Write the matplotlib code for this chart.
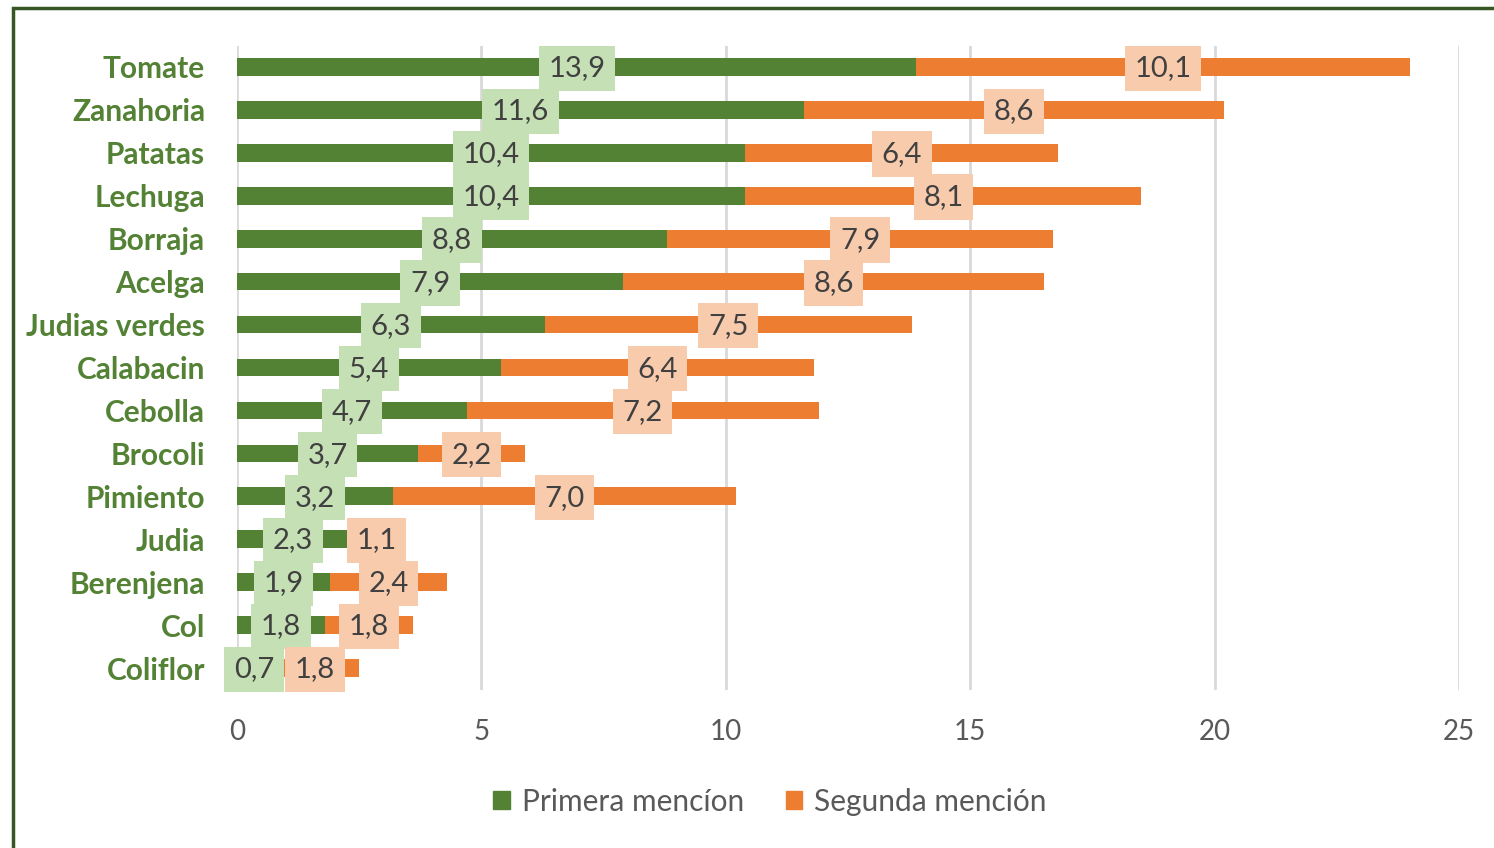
import matplotlib
matplotlib.use("Agg")
import matplotlib.pyplot as plt
from matplotlib.patches import Rectangle, Patch

categories = ["Tomate", "Zanahoria", "Patatas", "Lechuga", "Borraja", "Acelga",
              "Judias verdes", "Calabacin", "Cebolla", "Brocoli", "Pimiento",
              "Judia", "Berenjena", "Col", "Coliflor"]
primera = [13.9, 11.6, 10.4, 10.4, 8.8, 7.9, 6.3, 5.4, 4.7, 3.7, 3.2, 2.3, 1.9, 1.8, 0.7]
segunda = [10.1, 8.6, 6.4, 8.1, 7.9, 8.6, 7.5, 6.4, 7.2, 2.2, 7.0, 1.1, 2.4, 1.8, 1.8]
series_names = ["Primera mencíon", "Segunda mención"]
xticks = [0, 5, 10, 15, 20, 25]

GREEN = "#548235"
ORANGE = "#ED7D31"
GREEN_L = "#C5E0B4"
ORANGE_L = "#F8CBAD"

plt.rcParams['font.family'] = ['Lato', 'DejaVu Sans']

fig = plt.figure(figsize=(14.94, 8.48), dpi=100)
ax = fig.add_axes([237/1494, 1-689.5/848, (1459-237)/1494, (689.5-45.5)/848])

y = list(range(len(categories)))
h = 0.41
ax.barh(y, primera, height=h, color=GREEN, zorder=2)
ax.barh(y, segunda, left=primera, height=h, color=ORANGE, zorder=2)

def fmt(v):
    return f"{v:.1f}".replace(".", ",")

FS = 21
for i in y:
    ax.text(primera[i]/2, i + 0.03, fmt(primera[i]), ha="center", va="center",
            fontsize=FS, color="#404040", zorder=4,
            bbox=dict(boxstyle="square,pad=0.33", fc=GREEN_L, ec="none"))
for i in y:
    ax.text(primera[i] + segunda[i]/2, i + 0.03, fmt(segunda[i]), ha="center", va="center",
            fontsize=FS, color="#404040", zorder=4,
            bbox=dict(boxstyle="square,pad=0.33", fc=ORANGE_L, ec="none"))

ax.set_xlim(0, 25)
ax.set_ylim(len(categories) - 0.5, -0.5)
ax.set_xticks(xticks)
ax.set_xticklabels([str(t) for t in xticks], fontsize=20, color="#595959")
ax.set_yticks(y)
ax.set_yticklabels(categories, fontsize=21.5, fontweight="bold", color=GREEN)
ax.tick_params(axis="both", length=0)
ax.tick_params(axis="y", pad=23)
ax.tick_params(axis="x", pad=21)
for s in ax.spines.values():
    s.set_visible(False)
ax.grid(axis="x", color="#D9D9D9", linewidth=2, zorder=0)
ax.set_axisbelow(True)

handles = [Patch(color=GREEN), Patch(color=ORANGE)]
fig.legend(handles, series_names, loc="center", bbox_to_anchor=(770/1494, 1-802/848),
           ncol=2, frameon=False, fontsize=21.5, labelcolor="#595959",
           handlelength=0.55, handleheight=0.55, handletextpad=0.4, columnspacing=1.4)

fig.patches.append(Rectangle((13/1494, -0.1), 1.2, 1.1 - 8/848, transform=fig.transFigure,
                             fill=False, ec="#375623", lw=2.5, clip_on=False))

fig.savefig("out.png", dpi=100)
